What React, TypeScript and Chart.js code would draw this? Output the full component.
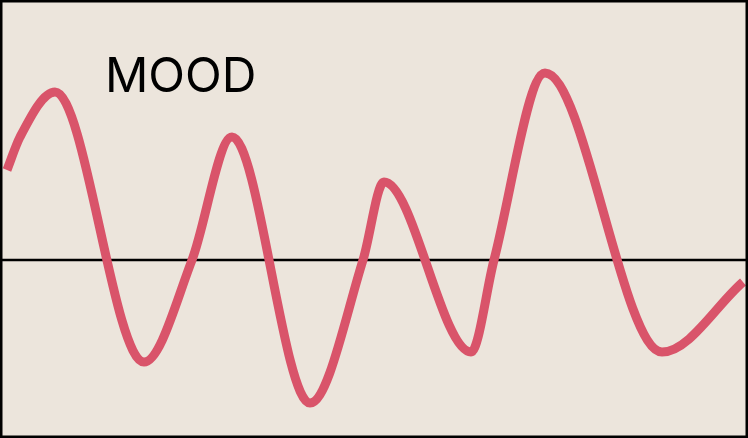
import React, { useEffect, useRef } from "react";
import { Chart, registerables } from "chart.js";

Chart.register(...registerables);

// time position (arbitrary units) and mood value (0 = neutral): points
const timePoints = [7, 20, 55, 144, 192, 232, 310, 363, 384, 471, 494, 545, 662, 743];
const moodValues = [90, 123, 168, -102, 0, 123, -143, 0, 78, -92, 0, 187, -92, -22];
const titleText = "MOOD";

const BG = "#ECE5DC";
const LINE = "#D9546A";

const framePlugin = {
  id: "frame",
  beforeDraw(chart: any) {
    const { ctx, width, height } = chart;
    ctx.save();
    ctx.fillStyle = BG;
    ctx.fillRect(0, 0, width, height);
    const y0 = chart.scales.y.getPixelForValue(0);
    ctx.strokeStyle = "#000";
    ctx.lineWidth = 2.5;
    ctx.beginPath();
    ctx.moveTo(0, y0);
    ctx.lineTo(width, y0);
    ctx.stroke();
    ctx.fillStyle = "#000";
    ctx.font = "400 48px Inter";
    ctx.textBaseline = "alphabetic";
    ctx.fillText(titleText, 105, 92);
    ctx.restore();
  },
  afterDraw(chart: any) {
    const { ctx, width, height } = chart;
    ctx.save();
    ctx.strokeStyle = "#000";
    ctx.lineWidth = 5;
    ctx.strokeRect(0, 0, width, height);
    ctx.restore();
  },
};

export default function App() {
  const ref = useRef<HTMLCanvasElement>(null);
  useEffect(() => {
    document.body.style.margin = "0";
    const chart = new Chart(ref.current!, {
      type: "line",
      data: {
        datasets: [
          {
            data: timePoints.map((t, i) => ({ x: t, y: moodValues[i] })),
            borderColor: LINE,
            borderWidth: 9,
            pointRadius: 0,
            cubicInterpolationMode: "monotone",
            fill: false,
          },
        ],
      },
      options: {
        animation: false,
        responsive: false,
        maintainAspectRatio: false,
        layout: { padding: 0 },
        plugins: { legend: { display: false }, tooltip: { enabled: false }, title: { display: false } },
        scales: {
          x: { type: "linear", min: 0, max: 748, display: false },
          y: { type: "linear", min: -178, max: 260, display: false },
        },
      },
      plugins: [framePlugin],
    });
    return () => chart.destroy();
  }, []);
  return (
    <div style={{ width: 748, height: 438 }}>
      <canvas ref={ref} width={748} height={438} style={{ display: "block" }} />
    </div>
  );
}
